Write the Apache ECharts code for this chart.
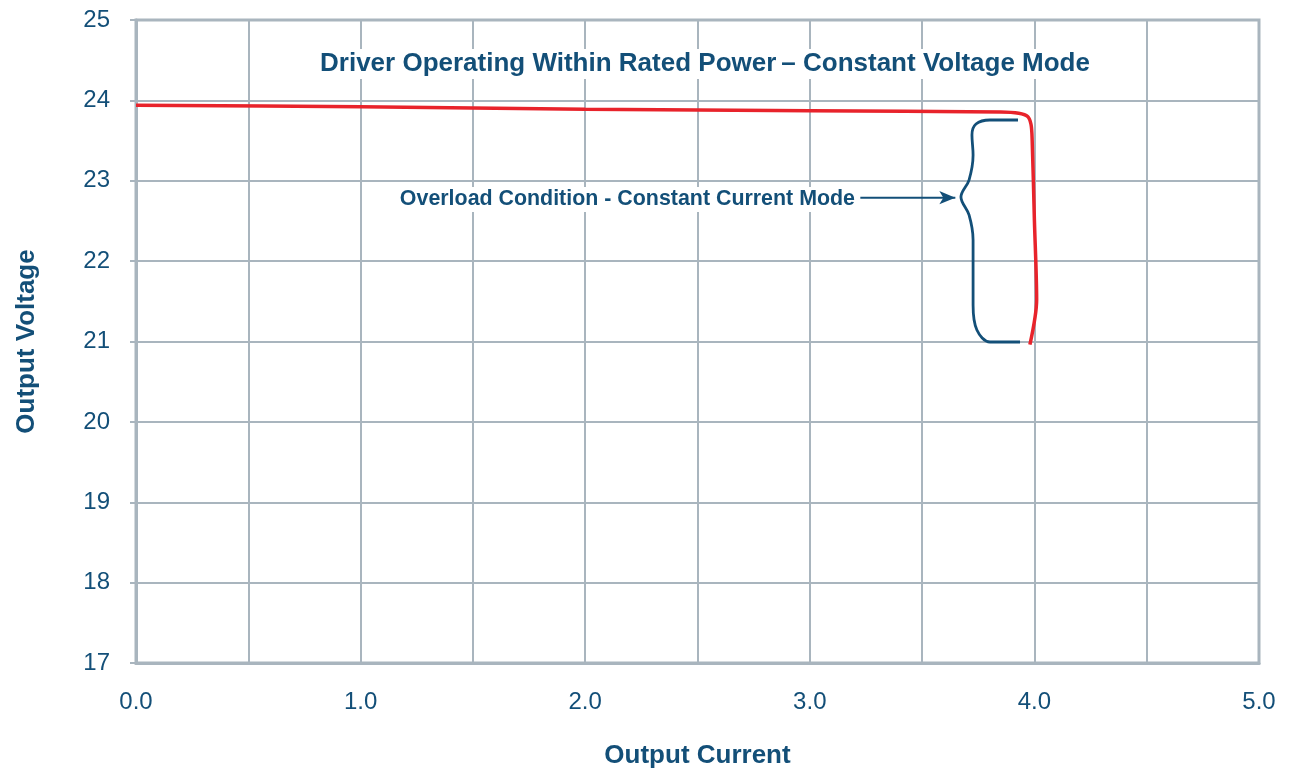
<!DOCTYPE html>
<html>
<head>
<meta charset="utf-8">
<style>
  html, body { margin: 0; padding: 0; background: #fff; }
  #chart { width: 1291px; height: 770px; }
</style>
<script src="https://cdn.jsdelivr.net/npm/echarts@6/dist/echarts.min.js"></script>
</head>
<body>
<div id="chart"></div>
<script>
// output curve (current A, voltage V)
const currentA = [0, 1.0, 2.0, 3.0, 3.85, 3.93, 3.97, 3.985, 3.99, 4.0, 4.01, 3.98];
const voltageV = [23.94, 23.92, 23.89, 23.87, 23.855, 23.84, 23.80, 23.70, 23.51, 22.51, 21.52, 20.96];

// brace marking the constant current section
const braceX = [3.927, 3.802, 3.740, 3.722, 3.727, 3.709, 3.673, 3.709, 3.727, 3.727, 3.744, 3.802, 3.936];
const braceY = [23.756, 23.756, 23.706, 23.569, 23.320, 23.009, 22.798, 22.574, 22.263, 21.454, 21.143, 20.994, 20.994];

// arrow from the label to the brace
const arrowX = [3.225, 3.648];
const arrowY = [22.79, 22.79];

const xTicks = [0, 1, 2, 3, 4, 5];
const yRange = [17, 25];

const textColor = '#134f78';
const gridColor = '#a9b5be';
const fontFamily = '"Liberation Sans", Arial, sans-serif';

const chart = echarts.init(document.getElementById('chart'));

const option = {
  animation: false,
  grid: {
    left: 136, right: 32, top: 20, bottom: 107,
    outerBoundsMode: 'none',
    show: true,
    borderColor: gridColor,
    borderWidth: 3
  },
  title: {
    text: '{b|Driver Operating Within Rated Power} {n|– Constant Voltage Mode}',
    left: 699,
    top: 46,
    textAlign: 'center',
    backgroundColor: '#fff',
    padding: [2, 6],
    textStyle: {
      rich: {
        b: { fontFamily, fontSize: 26, fontWeight: 'bold', color: textColor, lineHeight: 32 },
        n: { fontFamily, fontSize: 26, color: textColor, lineHeight: 32 }
      }
    }
  },
  graphic: [{
    type: 'text',
    right: 1291 - 858,
    top: 187,
    z: 10,
    style: {
      text: 'Overload Condition - Constant Current Mode',
      font: 'bold 21.4px ' + fontFamily,
      fill: textColor,
      backgroundColor: '#fff',
      padding: [2, 3]
    }
  }],
  xAxis: {
    type: 'value',
    min: xTicks[0],
    max: xTicks[xTicks.length - 1],
    interval: 0.5,
    name: 'Output Current',
    nameLocation: 'middle',
    nameGap: 80,
    nameTextStyle: { fontFamily, fontSize: 26, fontWeight: 'bold', color: textColor },
    axisLine: { show: true, lineStyle: { color: gridColor, width: 3 } },
    axisTick: { show: false },
    axisLabel: {
      margin: 27,
      fontFamily,
      fontSize: 24,
      color: textColor,
      formatter: v => (xTicks.indexOf(v) >= 0 ? v.toFixed(1) : '')
    },
    splitLine: { show: true, lineStyle: { color: gridColor, width: 2 } }
  },
  yAxis: {
    type: 'value',
    min: yRange[0],
    max: yRange[1],
    interval: 1,
    name: 'Output Voltage',
    nameLocation: 'middle',
    nameGap: 96,
    nameTextStyle: { fontFamily, fontSize: 26, fontWeight: 'bold', color: textColor },
    axisLine: { show: true, lineStyle: { color: gridColor, width: 3 } },
    axisTick: { show: true, length: 6, lineStyle: { color: gridColor, width: 2 } },
    axisLabel: {
      margin: 26,
      fontFamily,
      fontSize: 24,
      color: textColor
    },
    splitLine: { show: true, lineStyle: { color: gridColor, width: 2 } }
  },
  series: [
    {
      type: 'line',
      data: currentA.map((x, i) => [x, voltageV[i]]),
      smooth: 0.3,
      showSymbol: false,
      clip: false,
      lineStyle: { color: '#e8232b', width: 3.5 },
      z: 5
    },
    {
      type: 'line',
      data: braceX.map((x, i) => [x, braceY[i]]),
      smooth: 0.35,
      showSymbol: false,
      lineStyle: { color: textColor, width: 2.8 },
      z: 4
    },
    {
      type: 'line',
      data: arrowX.map((x, i) => [x, arrowY[i]]),
      showSymbol: false,
      lineStyle: { color: textColor, width: 2 },
      markPoint: {
        symbol: 'arrow',
        symbolSize: [10, 16],
        symbolRotate: -90,
        itemStyle: { color: textColor },
        label: { show: false },
        data: [{ coord: [arrowX[1], arrowY[1]] }]
      },
      z: 4
    }
  ]
};

chart.setOption(option);
</script>
</body>
</html>
